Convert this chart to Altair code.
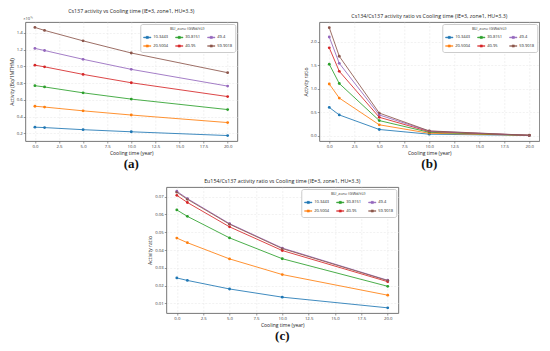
import altair as alt
import pandas as pd

cool = [0, 1, 5, 10, 20]
bu = ["10.3443", "20.5004", "30.8151", "40.95", "49.4", "59.9018"]
colors = ["#1f77b4", "#ff7f0e", "#2ca02c", "#d62728", "#9467bd", "#8c564b"]

# Cs137 activity (x1e15 Bq/1MTHM)
cs137_b1 = [0.275, 0.270, 0.245, 0.220, 0.175]
cs137_b2 = [0.525, 0.515, 0.470, 0.420, 0.330]
cs137_b3 = [0.770, 0.755, 0.685, 0.610, 0.485]
cs137_b4 = [1.015, 0.995, 0.905, 0.805, 0.640]
cs137_b5 = [1.215, 1.190, 1.085, 0.965, 0.765]
cs137_b6 = [1.465, 1.430, 1.305, 1.160, 0.925]

# Cs134/Cs137 ratio
r134_b1 = [0.60, 0.44, 0.13, 0.030, 0.004]
r134_b2 = [1.10, 0.80, 0.23, 0.050, 0.005]
r134_b3 = [1.52, 1.11, 0.32, 0.070, 0.005]
r134_b4 = [1.87, 1.37, 0.39, 0.085, 0.006]
r134_b5 = [2.10, 1.54, 0.44, 0.095, 0.006]
r134_b6 = [2.30, 1.69, 0.48, 0.100, 0.007]

# Eu154/Cs137 ratio
r154_b1 = [0.0243, 0.0229, 0.0181, 0.0135, 0.0075]
r154_b2 = [0.0467, 0.0441, 0.0350, 0.0262, 0.0146]
r154_b3 = [0.0625, 0.0589, 0.0468, 0.0351, 0.0196]
r154_b4 = [0.0707, 0.0667, 0.0530, 0.0397, 0.0222]
r154_b5 = [0.0730, 0.0689, 0.0548, 0.0411, 0.0230]
r154_b6 = [0.0725, 0.0685, 0.0545, 0.0408, 0.0228]

x_ticks = [0, 2.5, 5, 7.5, 10, 12.5, 15, 17.5, 20]

FONT = "Open Sans"


def long_df(series):
    rows = []
    for b, vals in zip(bu, series):
        for t, v in zip(cool, vals):
            rows.append({"t": t, "v": v, "bu": b})
    return pd.DataFrame(rows)


def panel(series, title, ytitle, ydom, yticks, yfmt, caption, w, h, offset_txt=None):
    df = long_df(series)
    legend = alt.Legend(
        title="BU_zone (GWd/tU)", orient="top-right", columns=3, offset=2,
        titleFontSize=4, labelFontSize=4, titleFontWeight="normal",
        titleFont=FONT, labelFont=FONT, titleAnchor="middle", titleColor="#333",
        labelColor="#222", symbolSize=55, strokeColor="#ccc", fillColor="white",
        padding=3, cornerRadius=2, columnPadding=6, rowPadding=2,
        symbolType="M-1,-0.1H1V0.1H-1Z M-0.3,-0.3H0.3V0.3H-0.3Z",
        symbolStrokeWidth=0.5, labelOffset=2, titlePadding=2,
    )
    x = alt.X("t:Q", scale=alt.Scale(domain=[-1, 21], nice=False, zero=False),
              axis=alt.Axis(title="Cooling time (year)", values=x_ticks, format=".1f"))
    y = alt.Y("v:Q", scale=alt.Scale(domain=ydom, nice=False, zero=False),
              axis=alt.Axis(title=ytitle, values=yticks, format=yfmt))
    color = alt.Color("bu:N", scale=alt.Scale(domain=bu, range=colors), legend=legend)
    base = alt.Chart(df).encode(x=x, y=y, color=color)
    pts = base.mark_point(filled=True, size=8, opacity=1)
    lines = base.mark_line(strokeWidth=1, opacity=0.85)
    cap = alt.Chart(pd.DataFrame({"c": [caption]})).mark_text(
        font="Liberation Serif", fontWeight="bold", fontSize=13, baseline="alphabetic",
        color="#111").encode(x=alt.value(w / 2), y=alt.value(h + 27), text="c:N")
    layers = [pts, lines, cap]
    if offset_txt:
        off = alt.Chart(pd.DataFrame({"o": [offset_txt]})).mark_text(
            font=FONT, fontSize=4, align="left", baseline="bottom", color="#333"
        ).encode(x=alt.value(-2), y=alt.value(-1), text="o:N")
        layers.append(off)
    return alt.layer(*layers).properties(
        width=w, height=h,
        title=alt.TitleParams(title, fontSize=5.3, font=FONT, fontWeight="normal",
                              color="#222", offset=3, anchor="middle"))


pa = panel([cs137_b1, cs137_b2, cs137_b3, cs137_b4, cs137_b5, cs137_b6],
           "Cs137 activity vs Cooling time (IE=3, zone1, HU=3.3)",
           "Activity (Bq/1MTHM)", [0.11, 1.53], [0.2, 0.4, 0.6, 0.8, 1.0, 1.2, 1.4],
           ".1f", "(a)", 212, 119, offset_txt="×10¹⁵")
pb = panel([r134_b1, r134_b2, r134_b3, r134_b4, r134_b5, r134_b6],
           "Cs134/Cs137 activity ratio vs Cooling time (IE=3, zone1, HU=3.3)",
           "Activity ratio", [-0.115, 2.42], [0.0, 0.5, 1.0, 1.5, 2.0],
           ".1f", "(b)", 220, 119)
pc = panel([r154_b1, r154_b2, r154_b3, r154_b4, r154_b5, r154_b6],
           "Eu154/Cs137 activity ratio vs Cooling time (IE=3, zone1, HU=3.3)",
           "Activity ratio", [0.0046, 0.0754], [0.01, 0.02, 0.03, 0.04, 0.05, 0.06, 0.07],
           ".2f", "(c)", 232, 126)

top = alt.hconcat(pa, pb, spacing=64).resolve_scale(color="independent").resolve_legend(color="independent")
chart = alt.vconcat(top, pc, spacing=6, center=True).resolve_scale(
    color="independent").resolve_legend(color="independent").properties(
    padding={"left": 0, "top": 0, "right": 0, "bottom": 0},
    background="white",
).configure_view(
    stroke="#666", strokeWidth=0.9
).configure_axis(
    labelFont=FONT, labelFontSize=4.3, labelColor="#333", labelPadding=1,
    titleFont=FONT, titleFontSize=5, titleFontWeight="normal", titleColor="#222",
    titlePadding=2, tickSize=2, tickColor="#555", tickWidth=0.6, domain=False,
    gridColor="#e4e4e4", gridWidth=0.5, gridDash=[2, 1.5]
)

chart.save("out.html", embed_options={"renderer": "svg", "actions": False})
